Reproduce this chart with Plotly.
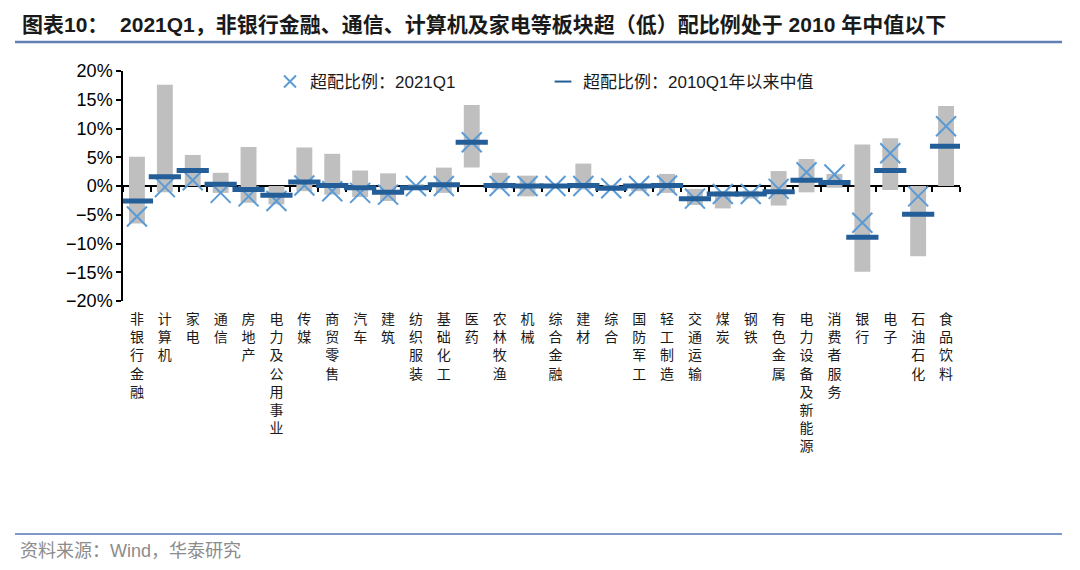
import plotly.graph_objects as go

categories = ["非银行金融", "计算机", "家电", "通信", "房地产", "电力及公用事业", "传媒", "商贸零售",
              "汽车", "建筑", "纺织服装", "基础化工", "医药", "农林牧渔", "机械", "综合金融", "建材",
              "综合", "国防军工", "轻工制造", "交通运输", "煤炭", "钢铁", "有色金属", "电力设备及新能源",
              "消费者服务", "银行", "电子", "石油石化", "食品饮料"]

range_high = [5.1, 17.6, 5.4, 2.3, 6.8, 0.0, 6.7, 5.6, 2.7, 2.2, 0.3, 3.2, 14.1, 2.3, 1.8, 0.2,
              3.9, 0.2, 0.5, 2.1, -0.5, -0.9, -0.8, 2.6, 4.7, 2.1, 7.2, 8.3, 0.0, 13.9]
range_low = [-6.5, -1.1, 0.0, -1.2, -2.9, -3.2, -0.9, -1.5, -1.9, -2.6, -0.4, -1.2, 3.2, -0.6, -1.8,
             -0.2, -0.6, -0.6, -0.9, -1.2, -3.3, -3.9, -2.2, -3.4, -1.1, -0.3, -14.9, -0.7, -12.2, 0.0]
current_2021q1 = [-5.3, -0.2, 1.0, -1.2, -1.8, -2.6, 0.1, -0.9, -1.2, -1.5, 0.0, 0.0, 7.6, 0.0, 0.0,
                  0.0, 0.0, -0.4, 0.0, 0.1, -2.2, -1.4, -1.4, -0.5, 2.4, 2.0, -6.4, 5.7, -1.8, 10.4]
median_since_2010 = [-2.6, 1.6, 2.7, 0.3, -0.6, -1.6, 0.7, 0.1, -0.3, -1.1, -0.3, 0.2, 7.6, 0.1, 0.0,
                     0.0, 0.1, -0.4, 0.0, 0.1, -2.2, -1.4, -1.4, -1.0, 1.0, 0.6, -8.9, 2.7, -4.9, 6.9]

tick_labels = ["<br>".join(c) for c in categories]
span = [h - l for h, l in zip(range_high, range_low)]

CJK = "Noto Sans CJK SC"
MIX = "Liberation Sans, Arial, Noto Sans CJK SC"

fig = go.Figure()
# carrier trace for the bottom label axis (invisible)
fig.add_trace(go.Scatter(x=categories, y=median_since_2010, xaxis="x", mode="markers",
                         marker=dict(opacity=0), showlegend=False, hoverinfo="skip"))
fig.add_trace(go.Bar(x=categories, y=span, base=range_low, width=0.57, xaxis="x2",
                     marker=dict(color="#BFBFBF", line=dict(width=0)),
                     showlegend=False, hoverinfo="skip"))
fig.add_trace(go.Scatter(x=categories, y=current_2021q1, mode="markers", xaxis="x2",
                         name="超配比例：2021Q1",
                         marker=dict(symbol="x-thin", size=20, color="#5B9BD5",
                                     line=dict(width=2, color="#5B9BD5"))))
fig.add_trace(go.Scatter(x=categories, y=median_since_2010, mode="markers", xaxis="x2",
                         name="超配比例：2010Q1年以来中值",
                         marker=dict(symbol="line-ew", size=23, color="#245E98",
                                     line=dict(width=5, color="#245E98"))))

fig.update_layout(
    width=1080, height=570,
    margin=dict(l=123, r=120, t=71, b=269),
    paper_bgcolor="white", plot_bgcolor="white",
    title=dict(text="<b>图表10：  2021Q1，非银行金融、通信、计算机及家电等板块超（低）配比例处于 2010 年中值以下</b>",
               font=dict(family=MIX, size=21, color="#1a1a1a"),
               x=22 / 1080, xanchor="left", xref="container",
               y=1 - 25 / 570, yanchor="middle", yref="container"),
    xaxis=dict(type="category", categoryorder="array", categoryarray=categories,
               range=[-0.5, len(categories) - 0.5],
               tickvals=categories, ticktext=tick_labels, ticks="", showline=False,
               showgrid=False, zeroline=False, ticklabelstandoff=8,
               tickfont=dict(family=CJK, size=14, color="#1a1a1a")),
    xaxis2=dict(type="category", overlaying="x", anchor="free", position=0.5,
                side="bottom", categoryorder="array", categoryarray=categories,
                range=[-0.5, len(categories) - 0.5],
                showline=True, linecolor="black", linewidth=1.5, layer="below traces",
                ticks="outside", tickson="boundaries", ticklen=5,
                tickcolor="black", tickwidth=1.5, showticklabels=False,
                showgrid=False, zeroline=False),
    yaxis=dict(range=[-20, 20], dtick=5, ticksuffix="%", showline=True, linecolor="black",
               linewidth=1.5, ticks="outside", ticklen=5, tickcolor="black", tickwidth=1.5,
               showgrid=False, zeroline=False,
               tickfont=dict(family="Liberation Sans, Arial", size=18, color="black")),
    legend=dict(orientation="h", x=(270 - 123) / 837, y=(301 - 82) / 230, xanchor="left",
                yanchor="middle", font=dict(family=MIX, size=17, color="#1a1a1a"),
                bgcolor="rgba(0,0,0,0)", itemsizing="constant",
                entrywidth=228, entrywidthmode="pixels"),
    bargap=0.43,
    showlegend=True,
)

# title underline and footer line
fig.add_shape(type="line", xref="paper", yref="paper",
              x0=(15 - 123) / 837, x1=(1062 - 123) / 837,
              y0=(301 - 42) / 230, y1=(301 - 42) / 230,
              line=dict(color="#5F7FB5", width=2.5))
fig.add_shape(type="line", xref="paper", yref="paper",
              x0=(15 - 123) / 837, x1=(1062 - 123) / 837,
              y0=(301 - 534) / 230, y1=(301 - 534) / 230,
              line=dict(color="#7E9BC8", width=2))
fig.add_annotation(text="资料来源：Wind，华泰研究", xref="paper", yref="paper",
                   x=(18 - 123) / 837, y=(301 - 551) / 230, xanchor="left", yanchor="middle",
                   showarrow=False, font=dict(family=MIX, size=18, color="#8C8C8C"))

fig.write_html("out.html", config={"displayModeBar": False},
               post_script="document.body.style.margin='0';")
